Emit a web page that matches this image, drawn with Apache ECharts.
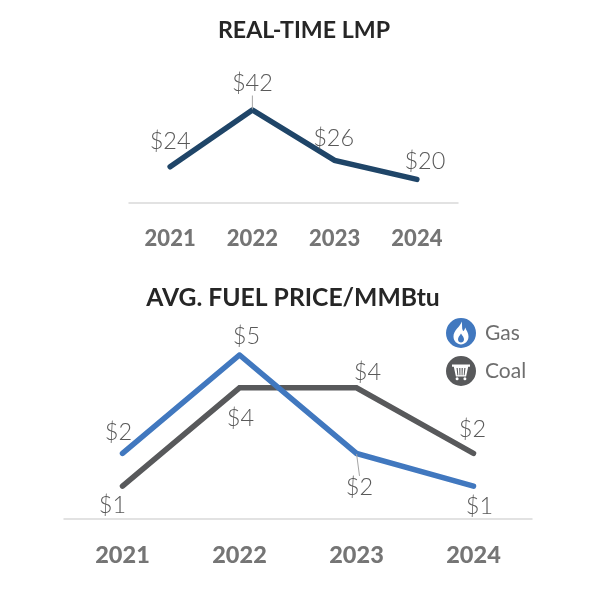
<!DOCTYPE html>
<html><head><meta charset="utf-8">
<style>html,body{margin:0;padding:0;background:#fff}#c{width:600px;height:600px}</style>
<script src="https://cdn.jsdelivr.net/npm/echarts@6/dist/echarts.min.js"></script>
</head><body><div id="c"></div>
<script>
const years = ['2021','2022','2023','2024'];
const lmp = [24,42,26,20];
const gas = [2,5,2,1];
const coal = [1,4,4,2];
const lmpOffsets = [[0,-13],[0,-14],[-1,-10],[8,-5]];
const gasOffsets = [[-4,-8],[7,-6],[3,47],[6,33]];
const coalOffsets = [[-10,32],[1,43],[11,-3],[-1,-11]];
const gasIcon = 'path://M50 0A50 50 0 1 1 50 100A50 50 0 1 1 50 0ZM52 12C48 30 25 40 25 62C25 78 37 88 50 88C63 88 75 78 75 62C75 50 68 42 64 32C62 42 58 45 56 42C52 35 55 22 52 12ZM50 52C55 60 60 65 60 71C60 78 55 82 50 82C45 82 40 78 40 71C40 65 45 60 50 52Z';
const coalIcon = 'path://M50 0A50 50 0 1 1 50 100A50 50 0 1 1 50 0ZM20 28L20 36L26 36L33 68L67 68L74 36L80 36L80 28ZM35 40L39 40L41 64L38 64ZM44 40L48 40L48 64L45 64ZM52 40L56 40L55 64L52 64ZM61 40L65 40L62 64L59 64ZM32 76A5 5 0 1 0 42 76A5 5 0 1 0 32 76ZM58 76A5 5 0 1 0 68 76A5 5 0 1 0 58 76Z';
const FONT = 'Lato';
function points(values, leaderIndex){
  return values.map((v,i)=>({
    value:v,
    labelLine:{show:i===leaderIndex}
  }));
}
function lineSeries(name, values, offsets, color, gridIndex, leaderIndex){
  return {
    name, type:'line', xAxisIndex:gridIndex, yAxisIndex:gridIndex, symbol:'circle', symbolSize:1, showSymbol:true, z:3,
    data:points(values, leaderIndex),
    lineStyle:{color, width:5.5, cap:'round', join:'miter'},
    itemStyle:{color},
    label:{show:true, position:'top', distance:0, formatter:p=>'$'+p.value, fontFamily:FONT, fontWeight:300, fontSize:23.5, color:'#595959'},
    labelLine:{lineStyle:{color:'#a6a6a6', width:1}},
    labelLayout:p=>({dx:offsets[p.dataIndex][0], dy:offsets[p.dataIndex][1]})
  };
}
function xAxis(gridIndex, fontSize, margin){
  return {
    type:'category', gridIndex, data:years, boundaryGap:true,
    axisLine:{show:true, lineStyle:{color:'#d9d9d9', width:1.5}},
    axisTick:{show:false},
    axisLabel:{fontFamily:FONT, fontWeight:900, fontSize, color:'#757575', margin}
  };
}
const chart = echarts.init(document.getElementById('c'));
chart.setOption({
  animation:false,
  backgroundColor:'#fff',
  title:[
    {text:'REAL-TIME LMP', left:299, top:14, textAlign:'center', textStyle:{fontFamily:FONT, fontWeight:700, fontSize:23.2, color:'#262626'}},
    {text:'AVG. FUEL PRICE/MMBtu', left:288, top:281, textAlign:'center', textStyle:{fontFamily:FONT, fontWeight:700, fontSize:24.7, color:'#262626'}}
  ],
  legend:{
    orient:'vertical', left:441, top:313, itemWidth:30, itemHeight:30, itemGap:8,
    selectedMode:false,
    textStyle:{fontFamily:FONT, fontSize:21, color:'#6e6e6e', padding:[0,0,0,4]},
    data:[{name:'Gas', icon:gasIcon},{name:'Coal', icon:coalIcon}]
  },
  grid:[
    {left:129, top:110, width:329, height:93},
    {left:64, top:355, width:468, height:164}
  ],
  xAxis:[xAxis(0,22,25), xAxis(1,23.5,24)],
  yAxis:[
    {type:'value', gridIndex:0, min:12.5, max:42, show:false},
    {type:'value', gridIndex:1, min:0, max:5, show:false}
  ],
  series:[
    lineSeries('LMP', lmp, lmpOffsets, '#1f4568', 0, 1),
    lineSeries('Coal', coal, coalOffsets, '#58595b', 1, -1),
    lineSeries('Gas', gas, gasOffsets, '#4178bf', 1, 2)
  ]
});
</script></body></html>
